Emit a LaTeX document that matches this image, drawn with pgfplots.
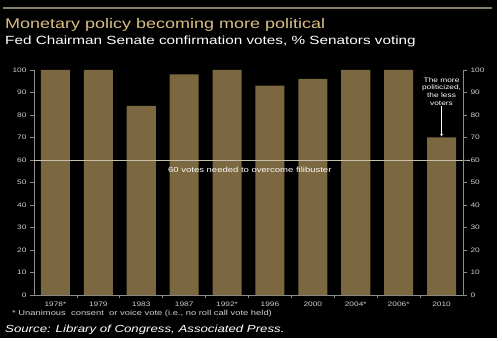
\documentclass[border=0pt]{standalone}
\usepackage{pgfplots}
\pgfplotsset{compat=1.18}
\usetikzlibrary{arrows.meta}
\usepackage{fontspec}
\setmainfont[FakeStretch=1.29]{Liberation Sans}
\definecolor{barc}{HTML}{7B6841}
\definecolor{gold}{HTML}{D9BE84}
\definecolor{axgray}{HTML}{8C8C8C}
\definecolor{topline}{HTML}{857C6C}
\definecolor{lblgray}{HTML}{D0D0D0}
\definecolor{sixty}{HTML}{C8C0A8}
\begin{document}
\begin{tikzpicture}[x=1bp,y=1bp]
\useasboundingbox (0,0) rectangle (502bp,342bp);
\fill[white] (0,0) rectangle (502bp,342bp);
\fill[black] (0,4bp) rectangle (497bp,342bp);
\draw[topline, line width=2bp] (3bp,333.5bp) -- (492bp,333.5bp);
\node[anchor=base west, inner sep=0, text=gold, font=\fontsize{14}{17}\selectfont] at (5bp,313.5bp) {Monetary policy becoming more political};
\node[anchor=base west, inner sep=0, text=white, font=\fontsize{11.9}{15}\selectfont] at (5bp,297bp) {Fed Chairman Senate confirmation votes, \% Senators voting};
\begin{axis}[at={(34bp,47bp)}, anchor=south west, scale only axis, width=429bp, height=225bp,
  xmin=-0.5, xmax=9.5, ymin=0, ymax=100, clip=false,
  ybar, bar width=29bp,
  axis x line*=bottom, axis y line*=left,
  axis line style={axgray, line width=0.6bp, -},
  tick align=outside, tick style={axgray, line width=0.6bp},
  major tick length=4bp, minor tick length=3bp,
  xtick={0,...,9},
  xticklabels={1978*,1979,1983,1987,1992*,1996,2000,2004*,2006*,2010},
  every major x tick/.style={draw=none},
  minor xtick={0.5,1.5,...,8.5},
  ytick={0,10,...,100},
  /pgf/number format/assume math mode=true,
  tick label style={font=\fontsize{6.5}{8}\selectfont, text=lblgray},
  xticklabel style={yshift=1bp},
]
\addplot[fill=barc, draw=none] coordinates {(0,100) (1,100) (2,84) (3,98) (4,100) (5,93) (6,96) (7,100) (8,100) (9,70)};
\draw[sixty, line width=0.6bp] (axis cs:-0.5,60) -- (axis cs:9.66,60);
\node[text=white, font=\fontsize{7.4}{8}\selectfont] at (axis cs:4.53,55.6) {60 votes needed\ to overcome\ filibuster};
\node[text=white, align=center, font=\fontsize{6.5}{7.8}\selectfont] at (axis cs:9,90.5) {The more\\politicized,\\the less\\voters};
\draw[white, line width=0.6bp, -{Latex[length=3bp,width=3bp]}] (axis cs:9,84) -- (axis cs:9,70.3);
\end{axis}
\begin{axis}[at={(34bp,47bp)}, anchor=south west, scale only axis, width=429bp, height=225bp,
  xmin=-0.5, xmax=9.5, ymin=0, ymax=100,
  axis x line=none, axis y line*=right,
  axis line style={axgray, line width=0.6bp, -},
  tick align=outside, tick style={axgray, line width=0.6bp},
  major tick length=4bp,
  ytick={0,10,...,100},
  /pgf/number format/assume math mode=true,
  tick label style={font=\fontsize{6.5}{8}\selectfont, text=lblgray},
]
\addplot[draw=none] coordinates {(0,0)};
\end{axis}
\node[anchor=base west, inner sep=0, text=lblgray, font=\fontsize{7.3}{8}\selectfont] at (12bp,27bp) {* Unanimous\ \ consent\ \ or voice vote (i.e., no roll call vote held)};
\node[anchor=base west, inner sep=0, text=white, font=\fontsize{10.3}{13}\selectfont\itshape] at (5bp,9.5bp) {Source: Library of Congress, Associated Press.};
\end{tikzpicture}
\end{document}
